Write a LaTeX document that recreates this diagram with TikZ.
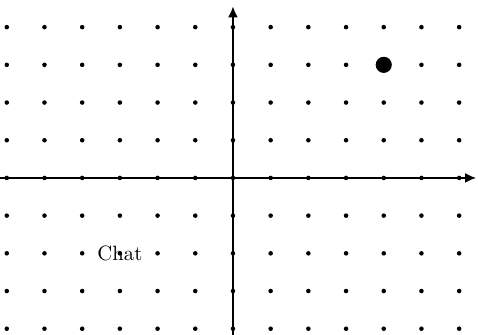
\documentclass[tikz,border=0pt]{standalone}
\usetikzlibrary{arrows.meta}
\begin{document}
\begin{tikzpicture}[>={Latex[length=5.3pt,width=4.8pt]}, x=0.64cm, y=0.64cm, thick]
\useasboundingbox (-6.18,-4.16) rectangle (6.50,4.72);
\coordinate (xs) at (-6.2,0);
\coordinate (xe) at (6.45,0);
\coordinate (ys) at (0,-4.2);
\coordinate (ye) at (0,4.55);
\draw[->](xs)--(xe);
\draw[->](ys)--(ye);

\foreach \i in {-6,...,6}
{
    \foreach \j in {-4,...,4}
    {
        \fill (\i,\j) circle (1.1pt);
    }
}
\fill (4,3) circle (3.9pt);
\node (chat) at (-3,-2) {Chat};

\end{tikzpicture}
\end{document}
